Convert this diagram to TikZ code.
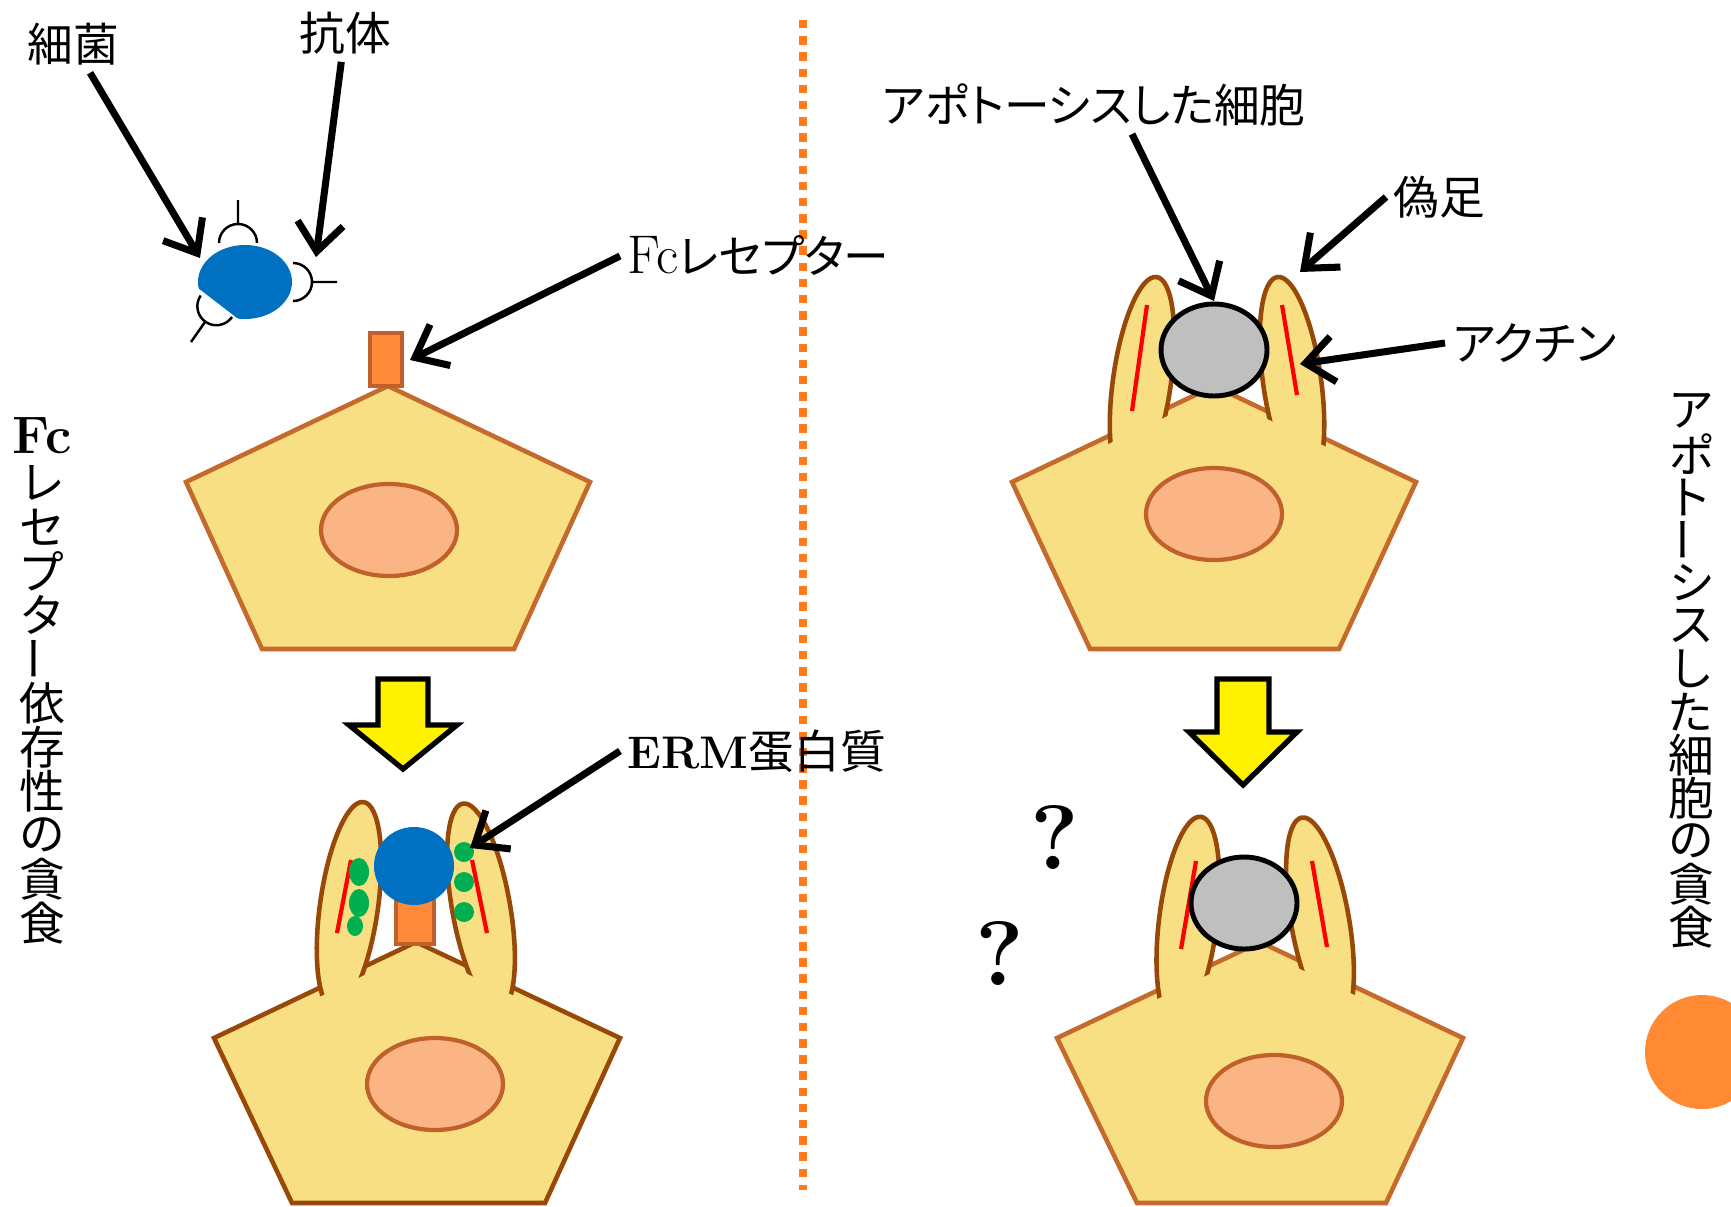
\documentclass[tikz,border=0pt]{standalone}
\usepackage{fontspec}
\newfontfamily\jp{Noto Sans CJK JP}[RawFeature=+palt]
\usepackage{tikz}
\usetikzlibrary{arrows.meta}

\definecolor{cellfill}{HTML}{F8DF84}
\definecolor{cellline}{HTML}{C46A2C}
\definecolor{podline}{HTML}{984807}
\definecolor{nucfill}{HTML}{FBB484}
\definecolor{nucline}{HTML}{C0602A}
\definecolor{recfill}{HTML}{FF8A3A}
\definecolor{recline}{HTML}{C0602A}
\definecolor{bactblue}{HTML}{0070C0}
\definecolor{ermgreen}{HTML}{00B050}
\definecolor{actinred}{HTML}{FF0000}
\definecolor{deadgray}{HTML}{BFBFBF}
\definecolor{sepline}{HTML}{FF7A1A}
\definecolor{dotorange}{HTML}{FF8A33}

\begin{document}
\begin{tikzpicture}[x=0.01cm,y=-0.01cm,
    every node/.style={font=\fontsize{13}{15}\selectfont\jp,inner sep=2pt},
    callout/.style={-{Straight Barb[length=8pt,width=13pt]},line width=2pt},
    cell/.style={fill=cellfill,draw=cellline,line width=1.3pt},
    pod/.style={fill=cellfill,draw=podline,line width=1.3pt},
    nucleus/.style={fill=nucfill,draw=nucline,line width=1.2pt},
    receptor/.style={fill=recfill,draw=recline,line width=1.2pt},
    dead/.style={fill=deadgray,draw=black,line width=1.4pt},
    actin/.style={actinred,line width=1.2pt},
    stepdown/.style={fill=yellow,draw=black,line width=1.5pt,line join=miter},
    ab/.style={line width=0.7pt},
    latin/.style={font=\fontsize{15.5}{17}\selectfont\rmfamily}]
\useasboundingbox (0,0) rectangle (1731,1206);

% divider
\draw[sepline,line width=2.4pt,dash pattern=on 2.4pt off 2.2pt] (803,20) -- (803,1190);

% bacterium with antibodies
\fill[bactblue] (245,282) ellipse [x radius=47,y radius=37];
\fill[white] (190,282) -- (242,322) -- (222,348) -- (170,308) -- cycle;
\draw[ab] (219,243) arc[start angle=180,end angle=360,radius=19] (238,224) -- (238,200);
\draw[ab] (293,263) arc[start angle=-90,end angle=90,radius=19] (312,282) -- (337,282);
\draw[ab] (232,317) arc[start angle=34.5,end angle=214.5,radius=19] (205,322) -- (191,342);

\node (lblBacteria) at (73,44) {細菌};
\node (lblAntibody) at (345,33) {抗体};
\coordinate (bacteriaTip) at (200,258);
\coordinate (antibodyTip) at (316,257);
\draw[callout] (lblBacteria) -- (bacteriaTip);
\draw[callout] (lblAntibody) -- (antibodyTip);

% Fc receptor cell, before
\draw[cell] (388,386) -- (590,482) -- (514,649) -- (262,649) -- (186,482) -- cycle;
\draw[receptor] (370,333) rectangle (402,386);
\draw[nucleus] (389,530) ellipse [x radius=68,y radius=46];
\node[anchor=west] (lblFc) at (620,256) {{\fontsize{15.5}{17}\selectfont\rmfamily Fc}レセプター};
\coordinate (fcTip) at (410,360);
\draw[callout] (lblFc.west) -- (fcTip);

\draw[stepdown] (378,679) -- (428,679) -- (428,725) -- (457,725) -- (403,769)
  -- (349,725) -- (378,725) -- cycle;

% Fc receptor cell, engulfing
\draw[cell,draw=podline] (416,942) -- (620,1038) -- (545,1203) -- (292,1203) -- (214,1038) -- cycle;
\foreach \cx/\cy/\ang in {349/906/-8, 481/907/10}
  \draw[pod,rotate around={\ang:(\cx,\cy)}] (\cx,\cy) ellipse [x radius=29,y radius=105];
\fill[cellfill] (305,1004) -- (416,950) -- (525,1001) -- (525,1030) -- (305,1030) -- cycle;
\draw[receptor] (396,898) rectangle (434,944);
\fill[bactblue] (414,866) ellipse [x radius=40,y radius=39];
\draw[actin] (351,860) -- (337,933);
\draw[actin] (472,860) -- (487,933);
\fill[ermgreen] (359,872) ellipse [x radius=10,y radius=14];
\fill[ermgreen] (359,903) ellipse [x radius=10,y radius=14];
\fill[ermgreen] (355,926) ellipse [x radius=8,y radius=10];
\foreach \dy in {852,882,912}
  \fill[ermgreen] (464,\dy) ellipse [x radius=10,y radius=10];
\draw[nucleus] (435,1084) ellipse [x radius=68,y radius=46];
\node[anchor=west] (lblERM) at (620,751) {\textbf{\textrm{ERM}}蛋白質};
\coordinate (ermTip) at (470,848);
\draw[callout] (lblERM.west) -- (ermTip);

% apoptotic cell uptake
\draw[cell] (1214,386) -- (1416,482) -- (1339,649) -- (1090,649) -- (1012,482) -- cycle;
\foreach \cx/\ang in {1142/-8, 1292/8}
  \draw[pod,rotate around={\ang:(\cx,381)}] (\cx,381) ellipse [x radius=29,y radius=105];
\fill[cellfill] (1100,448) -- (1214,394) -- (1335,451) -- (1335,500) -- (1100,500) -- cycle;
\draw[actin] (1147,305) -- (1132,411);
\draw[actin] (1282,305) -- (1297,395);
\draw[dead] (1214,350) ellipse [x radius=53,y radius=46];
\draw[nucleus] (1214,514) ellipse [x radius=68,y radius=46];

\node (lblApo) at (1094,105) {アポトーシスした細胞};
\node[anchor=west] (lblPseudo) at (1386,197) {偽足};
\node[anchor=west] (lblActin) at (1445,343) {アクチン};
\coordinate (apoTip) at (1214,301);
\coordinate (pseudoTip) at (1300,272);
\coordinate (actinTip) at (1300,364);
\draw[callout] ([xshift=0.38cm]lblApo.south) -- (apoTip);
\draw[callout] (lblPseudo.west) -- (pseudoTip);
\draw[callout] (lblActin.west) -- (actinTip);

\draw[stepdown] (1217,679) -- (1269,679) -- (1269,732) -- (1297,732) -- (1243,785)
  -- (1189,732) -- (1217,732) -- cycle;

\draw[cell] (1260,942) -- (1463,1038) -- (1386,1203) -- (1137,1203) -- (1057,1038) -- cycle;
\foreach \cx/\ang in {1188/-7, 1320/10}
  \draw[pod,rotate around={\ang:(\cx,921)}] (\cx,921) ellipse [x radius=29,y radius=105];
\fill[cellfill] (1145,1005) -- (1260,950) -- (1365,1000) -- (1365,1040) -- (1145,1040) -- cycle;
\draw[actin] (1196,861) -- (1181,949);
\draw[actin] (1312,861) -- (1327,947);
\draw[dead] (1244,903) ellipse [x radius=53,y radius=46];
\draw[nucleus] (1274,1101) ellipse [x radius=68,y radius=46];

\node[font=\fontsize{26}{28}\selectfont\bfseries\rmfamily] (qmarkA) at (1055,837) {?};
\node[font=\fontsize{26}{28}\selectfont\bfseries\rmfamily] (qmarkB) at (1000,953) {?};

% side captions
\node[latin,font=\fontsize{15}{17}\selectfont\bfseries\rmfamily] (leftFc) at (42,436) {Fc};
\foreach \ch [count=\i] in {レ,セ,プ,タ,{\rotatebox[origin=c]{90}{ー}},依,存,性,の,貪,食}
  \node (leftV\i) at (42,{483+44*(\i-1)}) {\ch};
\foreach \ch [count=\i] in {ア,ポ,ト,{\rotatebox[origin=c]{90}{ー}},シ,ス,し,た,細,胞,の,貪,食}
  \node (rightV\i) at (1691,{411+43*(\i-1)}) {\ch};

\fill[dotorange] (1702,1052) circle (57);
\end{tikzpicture}
\end{document}
